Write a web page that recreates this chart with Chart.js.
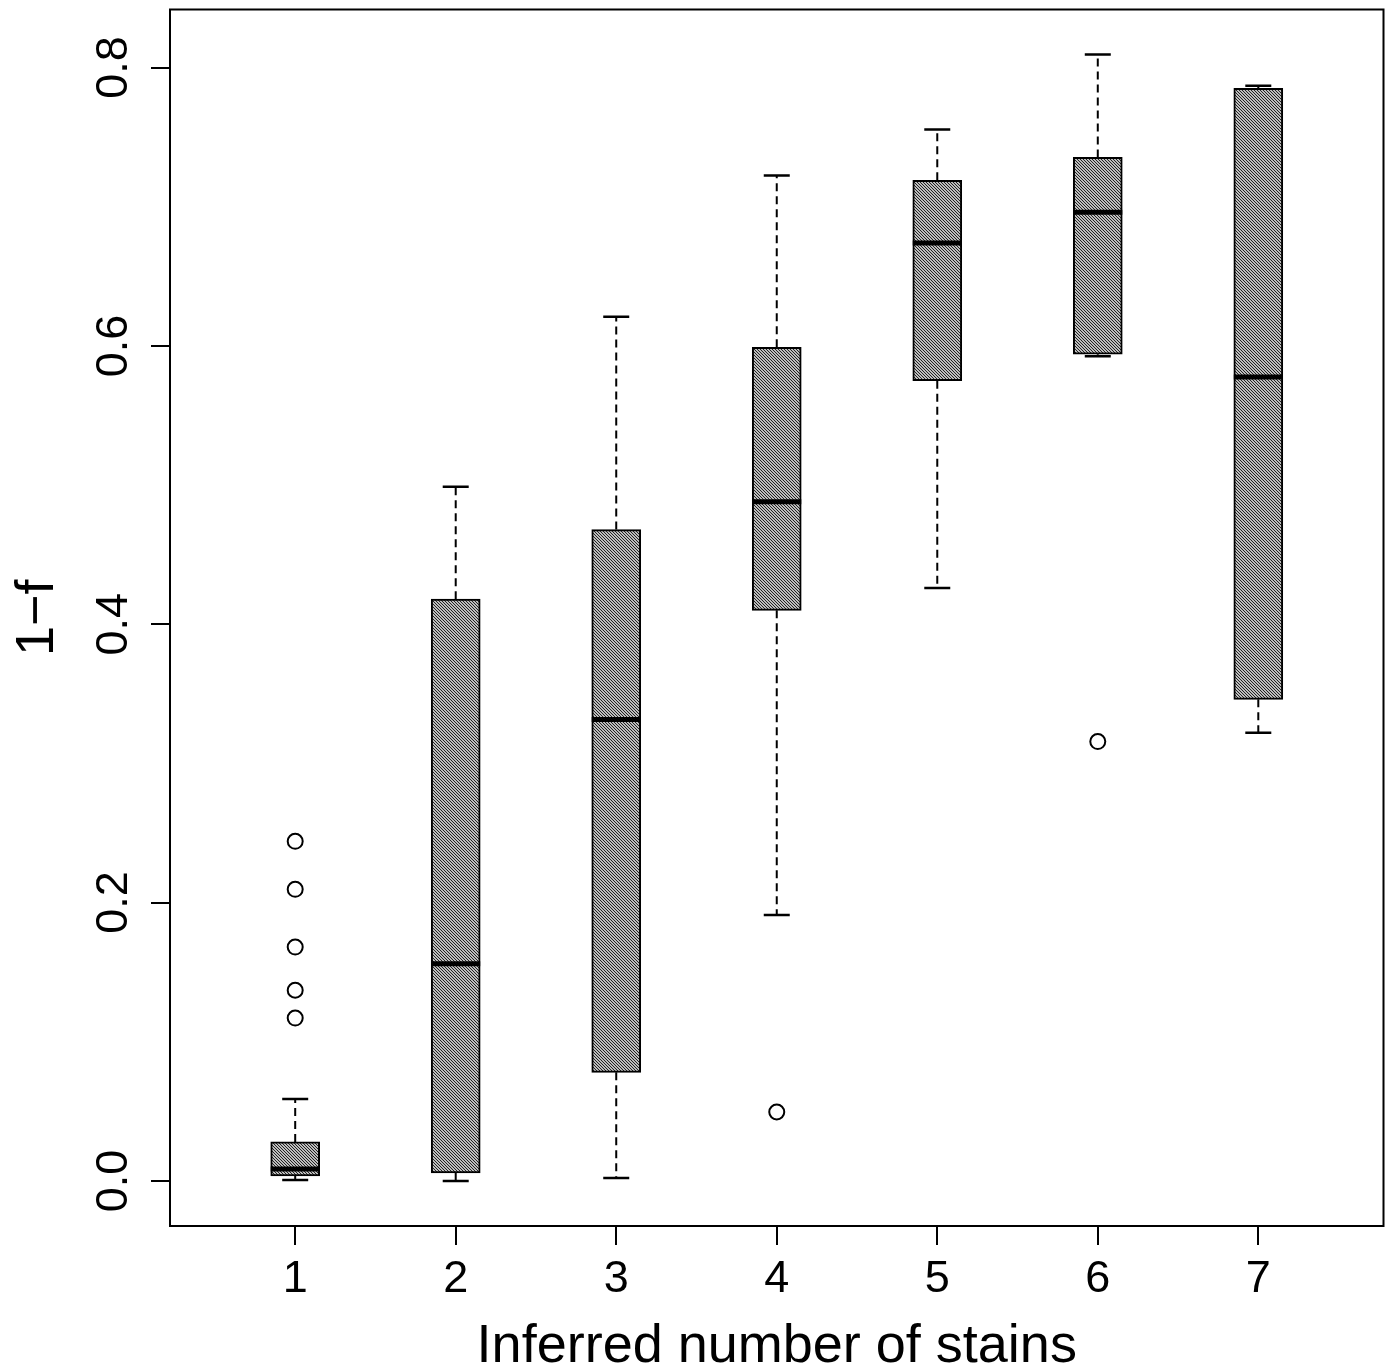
<!DOCTYPE html>
<html>
<head>
<meta charset="utf-8">
<script src="https://cdn.jsdelivr.net/npm/chart.js@4"></script>
<style>
    html, body { margin: 0; padding: 0; background: #ffffff; }
    #wrap { width: 1393px; height: 1371px; }
</style>
</head>
<body>
<div id="wrap"><canvas id="boxChart" width="1393" height="1371"></canvas></div>
<script>
const STAINS       = [1, 2, 3, 4, 5, 6, 7];
const WHISKER_LOW  = [0.0007, 0.0, 0.002, 0.191, 0.426, 0.5926, 0.322];
const Q1           = [0.0036, 0.0057, 0.078, 0.410, 0.575, 0.594, 0.346];
const MEDIAN       = [0.0086, 0.156, 0.3315, 0.488, 0.674, 0.696, 0.5776];
const Q3           = [0.028, 0.418, 0.468, 0.599, 0.719, 0.7354, 0.785];
const WHISKER_HIGH = [0.0588, 0.4987, 0.621, 0.7225, 0.7555, 0.8093, 0.787];

const OUTLIER_X = [1, 1, 1, 1, 1, 4, 6];
const OUTLIER_Y = [0.244, 0.2095, 0.168, 0.137, 0.117, 0.0495, 0.3157];

const Y_TICKS = [0.0, 0.2, 0.4, 0.6, 0.8];

const X_TITLE = 'Inferred number of stains';
const Y_TITLE = '1\u2212f';

const FONT_FAMILY = '"Liberation Sans", Arial, Helvetica, sans-serif';
const BOX_WIDTH   = 49;
const CAP_HALF    = 13;

function makeHatch() {
    const tile = document.createElement('canvas');
    tile.width = 3;
    tile.height = 3;
    const c = tile.getContext('2d');
    c.fillStyle = '#bdbdbd';
    c.fillRect(0, 0, 3, 3);
    c.fillStyle = '#222222';
    for (let i = 0; i < 3; i++)
        c.fillRect(i, i, 1, 1);
    return document.getElementById('boxChart').getContext('2d').createPattern(tile, 'repeat');
}

const boxDecor = {
    id: 'boxDecor',
    afterDatasetsDraw(chart) {
        const ctx = chart.ctx;
        const xs = chart.scales.x;
        const ys = chart.scales.y;

        ctx.save();
        ctx.strokeStyle = '#000000';

        STAINS.forEach((s, i) => {
            const px = xs.getPixelForValue(s);

            // dashed whiskers
            ctx.lineWidth = 2;
            ctx.setLineDash([8, 5]);
            ctx.beginPath();
            ctx.moveTo(px, ys.getPixelForValue(Q3[i]));
            ctx.lineTo(px, ys.getPixelForValue(WHISKER_HIGH[i]));
            ctx.moveTo(px, ys.getPixelForValue(Q1[i]));
            ctx.lineTo(px, ys.getPixelForValue(WHISKER_LOW[i]));
            ctx.stroke();

            // caps
            ctx.setLineDash([]);
            ctx.lineWidth = 2.5;
            ctx.beginPath();
            [WHISKER_HIGH[i], WHISKER_LOW[i]].forEach(v => {
                const py = ys.getPixelForValue(v);
                ctx.moveTo(px - CAP_HALF, py);
                ctx.lineTo(px + CAP_HALF, py);
            });
            ctx.stroke();

            // median
            ctx.lineWidth = 5;
            ctx.beginPath();
            const pm = ys.getPixelForValue(MEDIAN[i]);
            ctx.moveTo(px - BOX_WIDTH / 2, pm);
            ctx.lineTo(px + BOX_WIDTH / 2, pm);
            ctx.stroke();
        });

        ctx.restore();
    },
    afterDraw(chart) {
        const ctx = chart.ctx;
        const a = chart.chartArea;
        const xs = chart.scales.x;
        const ys = chart.scales.y;

        ctx.save();
        ctx.strokeStyle = '#000000';
        ctx.lineWidth = 2;
        ctx.strokeRect(a.left, a.top, a.right - a.left, a.bottom - a.top);

        ctx.fillStyle = '#000000';
        ctx.font = `45px ${FONT_FAMILY}`;

        // x tick labels
        ctx.textAlign = 'center';
        ctx.textBaseline = 'alphabetic';
        STAINS.forEach(s => {
            ctx.fillText(String(s), xs.getPixelForValue(s), 1292);
        });

        // y tick labels, rotated
        Y_TICKS.forEach(v => {
            ctx.save();
            ctx.translate(127, ys.getPixelForValue(v));
            ctx.rotate(-Math.PI / 2);
            ctx.fillText(v.toFixed(1), 0, 0);
            ctx.restore();
        });

        // axis titles
        ctx.font = `54px ${FONT_FAMILY}`;
        ctx.fillText(X_TITLE, (a.left + a.right) / 2, 1362);

        ctx.save();
        ctx.translate(53, (a.top + a.bottom) / 2);
        ctx.rotate(-Math.PI / 2);
        ctx.fillText(Y_TITLE, 0, 0);
        ctx.restore();

        ctx.restore();
    }
};

function buildChart() {
    const boxes = STAINS.map((s, i) => ({ x: s, y: [Q1[i], Q3[i]] }));
    const outliers = OUTLIER_X.map((x, i) => ({ x: x, y: OUTLIER_Y[i] }));

    new Chart(document.getElementById('boxChart'), {
        type: 'bar',
        data: {
            datasets: [{
                data: boxes,
                backgroundColor: makeHatch(),
                borderColor: '#000000',
                borderWidth: 2,
                borderSkipped: false,
                barThickness: BOX_WIDTH
            }, {
                type: 'scatter',
                data: outliers,
                pointStyle: 'circle',
                pointRadius: 7.5,
                pointBorderWidth: 2,
                pointBackgroundColor: '#ffffff',
                pointBorderColor: '#000000'
            }]
        },
        plugins: [boxDecor],
        options: {
            responsive: false,
            animation: false,
            events: [],
            layout: {
                padding: { left: 0, top: 8, right: 7, bottom: 0 }
            },
            plugins: {
                legend: { display: false },
                tooltip: { enabled: false }
            },
            scales: {
                x: {
                    type: 'linear',
                    min: 0.22,
                    max: 7.78,
                    offset: false,
                    afterFit: scale => { scale.height = 145; },
                    ticks: { display: false, stepSize: 1, includeBounds: false },
                    border: { display: false },
                    grid: {
                        offset: false,
                        drawOnChartArea: false,
                        drawTicks: true,
                        tickLength: 19,
                        color: '#000000',
                        lineWidth: 2
                    }
                },
                y: {
                    type: 'linear',
                    min: -0.0324,
                    max: 0.8417,
                    afterFit: scale => { scale.width = 170; },
                    ticks: { display: false, stepSize: 0.2, includeBounds: false },
                    border: { display: false },
                    grid: {
                        drawOnChartArea: false,
                        drawTicks: true,
                        tickLength: 19,
                        color: '#000000',
                        lineWidth: 2
                    }
                }
            }
        }
    });
}

buildChart();
</script>
</body>
</html>
